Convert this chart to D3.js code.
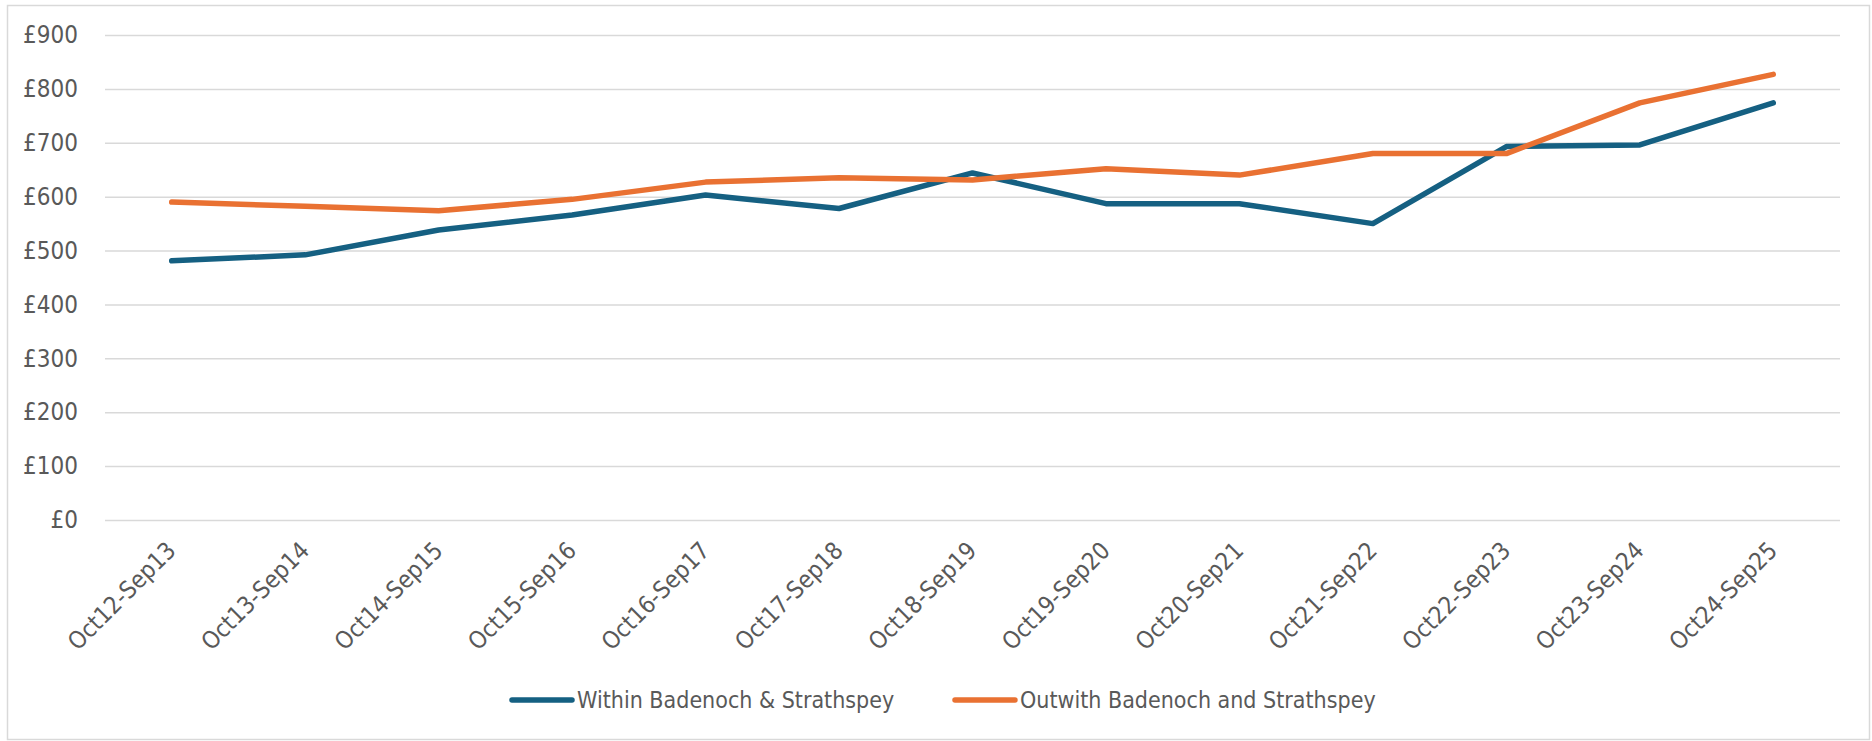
<!DOCTYPE html>
<html>
<head>
<meta charset="utf-8">
<script src="https://cdn.jsdelivr.net/npm/d3@7"></script>
<style>
  body { margin: 0; background: #fff; }
  text { font-family: "Liberation Sans Narrow", "Arial Narrow", "DejaVu Sans Condensed", sans-serif; fill: #595959; }
</style>
</head>
<body>
<div id="my_dataviz"></div>
<script>
/*global d3*/

// data
var categories = ["Oct12-Sep13", "Oct13-Sep14", "Oct14-Sep15", "Oct15-Sep16", "Oct16-Sep17",
  "Oct17-Sep18", "Oct18-Sep19", "Oct19-Sep20", "Oct20-Sep21", "Oct21-Sep22",
  "Oct22-Sep23", "Oct23-Sep24", "Oct24-Sep25"];
var within = [481, 492, 538, 566, 603, 578, 644, 587, 587, 550, 693, 696, 774];
var outwith = [590, 582, 574, 595, 627, 635, 631, 652, 640, 680, 680, 774, 827];
var yTicks = [0, 100, 200, 300, 400, 500, 600, 700, 800, 900];
var seriesNames = ["Within Badenoch & Strathspey", "Outwith Badenoch and Strathspey"];
var seriesColors = ["#156082", "#e97132"];

var width = 1872, height = 741;

var svg = d3.select("#my_dataviz")
  .append("svg")
  .attr("width", width)
  .attr("height", height);

// chart border
svg.append("rect")
  .attr("x", 7.5).attr("y", 5.5)
  .attr("width", 1862).attr("height", 734)
  .attr("fill", "none")
  .attr("stroke", "#d9d9d9")
  .attr("stroke-width", 1.5);

var x = d3.scalePoint()
  .domain(categories)
  .range([105, 1840])
  .padding(0.5);

var y = d3.scaleLinear()
  .domain([0, 900])
  .range([520, 35]);

// gridlines + y labels
var yAxis = svg.append("g")
  .attr("transform", "translate(105,0)")
  .call(d3.axisLeft(y)
    .tickValues(yTicks)
    .tickSize(-(1840 - 105))
    .tickPadding(27)
    .tickFormat(function(d) { return "£" + d; }));
yAxis.select(".domain").remove();
yAxis.selectAll(".tick line")
  .attr("stroke", "#d9d9d9")
  .attr("stroke-width", 1.5);
yAxis.selectAll(".tick text")
  .style("font-size", "24px")
  .attr("fill", "#595959");

// x labels, rotated
var xAxis = svg.append("g")
  .attr("transform", "translate(0,520)")
  .call(d3.axisBottom(x).tickSize(0).tickPadding(0));
xAxis.select(".domain").remove();
xAxis.selectAll(".tick text")
  .style("font-size", "24px")
  .attr("fill", "#595959")
  .attr("text-anchor", "end")
  .attr("dy", null)
  .attr("y", 0)
  .attr("transform", "translate(5,32) rotate(-45)");

// lines
var line = d3.line()
  .x(function(d, i) { return x(categories[i]); })
  .y(function(d) { return y(d); });

[within, outwith].forEach(function(vals, i) {
  svg.append("path")
    .datum(vals)
    .attr("fill", "none")
    .attr("stroke", seriesColors[i])
    .attr("stroke-width", 5.5)
    .attr("stroke-linejoin", "round")
    .attr("stroke-linecap", "round")
    .attr("d", line);
});

// legend
var legendX = [512, 955];
var legend = svg.append("g");
seriesNames.forEach(function(name, i) {
  legend.append("line")
    .attr("x1", legendX[i]).attr("x2", legendX[i] + 60)
    .attr("y1", 700).attr("y2", 700)
    .attr("stroke", seriesColors[i])
    .attr("stroke-width", 5.5)
    .attr("stroke-linecap", "round");
  legend.append("text")
    .attr("x", legendX[i] + 65)
    .attr("y", 700)
    .attr("dy", "0.35em")
    .style("font-size", "23px")
    .text(name);
});
</script>
</body>
</html>
